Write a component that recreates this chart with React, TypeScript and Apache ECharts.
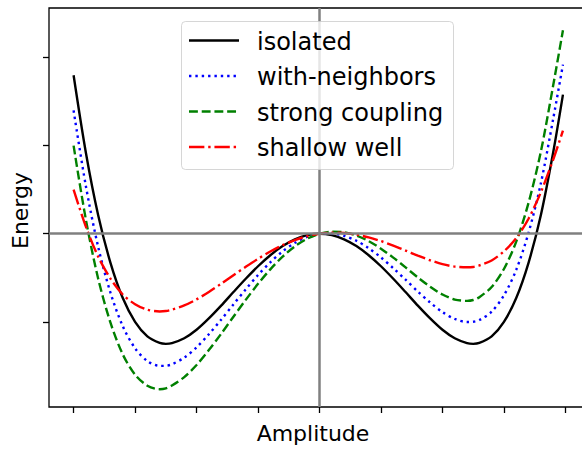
import React, { useEffect, useRef } from "react";
import * as echarts from "echarts";

const amplitude = [
  -2.0, -1.9, -1.8, -1.7, -1.6, -1.5, -1.4, -1.3, -1.25, -1.2, -1.1, -1.0,
  -0.9, -0.8, -0.7, -0.6, -0.5, -0.4, -0.3, -0.2, -0.1, 0.0,
  0.1, 0.2, 0.3, 0.4, 0.5, 0.6, 0.7, 0.8, 0.9, 1.0,
  1.1, 1.2, 1.25, 1.3, 1.4, 1.5, 1.6, 1.7, 1.8, 1.9, 1.98,
];

const isolated = [
  1.8, 0.92, 0.21, -0.33, -0.73, -1.0, -1.165, -1.24, -1.25, -1.242, -1.187, -1.09,
  -0.961, -0.816, -0.662, -0.511, -0.369, -0.244, -0.14, -0.063, -0.016, 0.0,
  -0.016, -0.063, -0.14, -0.244, -0.369, -0.511, -0.662, -0.816, -0.961, -1.09,
  -1.187, -1.242, -1.25, -1.24, -1.165, -1.0, -0.73, -0.33, 0.21, 0.92, 1.58,
];

const withNeighbors = [
  1.4, 0.54, -0.15, -0.67, -1.05, -1.3, -1.445, -1.5, -1.499, -1.482, -1.407, -1.29,
  -1.141, -0.976, -0.802, -0.631, -0.469, -0.324, -0.2, -0.103, -0.036, 0.0,
  0.004, -0.023, -0.08, -0.164, -0.269, -0.391, -0.522, -0.656, -0.781, -0.89,
  -0.967, -1.002, -0.999, -0.98, -0.885, -0.7, -0.41, 0.01, 0.57, 1.3, 1.92,
];

const strongCoupling = [
  1.0, 0.16, -0.51, -1.01, -1.37, -1.6, -1.725, -1.765, -1.755, -1.722, -1.627, -1.49,
  -1.321, -1.136, -0.942, -0.751, -0.569, -0.404, -0.26, -0.143, -0.056, 0.0,
  0.024, 0.017, -0.02, -0.084, -0.169, -0.271, -0.382, -0.496, -0.601, -0.69,
  -0.747, -0.762, -0.752, -0.72, -0.605, -0.4, -0.09, 0.35, 0.93, 1.68, 2.31,
];

const shallowWell = [
  0.5, 0.08, -0.26, -0.51, -0.69, -0.8, -0.863, -0.882, -0.877, -0.861, -0.814, -0.745,
  -0.661, -0.568, -0.471, -0.376, -0.285, -0.202, -0.13, -0.072, -0.028, 0.0,
  0.012, 0.008, -0.01, -0.042, -0.084, -0.136, -0.191, -0.248, -0.301, -0.345,
  -0.373, -0.381, -0.377, -0.36, -0.303, -0.2, -0.05, 0.17, 0.47, 0.84, 1.17,
];

const xTicks = [-2, -1.5, -1, -0.5, 0, 0.5, 1, 1.5, 2];
const yTicks = [-1, 0, 1, 2];

const seriesNames = ["isolated", "with-neighbors", "strong coupling", "shallow well"];
const seriesValues = [isolated, withNeighbors, strongCoupling, shallowWell];
const seriesColors = ["#000000", "#0000ff", "#008000", "#ff0000"];
const LW = 2.4;
const seriesDash: (number[] | "solid")[] = [
  "solid",
  [LW, 1.65 * LW],
  [3.7 * LW, 1.6 * LW],
  [6.4 * LW, 1.6 * LW, LW, 1.6 * LW],
];

const FONT = "DejaVu Sans";

export default function App() {
  const ref = useRef<HTMLDivElement>(null);

  useEffect(() => {
    if (!ref.current) return;
    const chart = echarts.init(ref.current, null, { renderer: "svg" });

    const legendRows = [40.5, 76, 111.5, 147];
    const legendGraphics: any[] = [
      {
        type: "rect",
        shape: { x: 181.5, y: 21.5, width: 272, height: 148, r: 4 },
        style: { fill: "rgba(255,255,255,0.8)", stroke: "rgba(204,204,204,0.8)", lineWidth: 1 },
        z: 100,
      },
    ];
    seriesNames.forEach((name, i) => {
      const y = legendRows[i];
      const dash = seriesDash[i];
      legendGraphics.push({
        type: "line",
        shape: { x1: 189, y1: y, x2: 239, y2: y },
        style: {
          stroke: seriesColors[i],
          lineWidth: LW,
          lineDash: dash === "solid" ? null : dash,
        },
        z: 101,
      });
      legendGraphics.push({
        type: "text",
        x: 257,
        y: y + 1,
        style: {
          text: name,
          fill: "#000",
          fontSize: 24,
          fontFamily: FONT,
          align: "left",
          verticalAlign: "middle",
        },
        z: 101,
      });
    });

    const curveSeries = seriesNames.map((name, i) => ({
      type: "line",
      name,
      data: amplitude.map((x, j) => [x, seriesValues[i][j]]),
      showSymbol: false,
      symbol: "none",
      smooth: 0.3,
      clip: true,
      z: 3,
      lineStyle: {
        color: seriesColors[i],
        width: LW,
        type: seriesDash[i],
      },
    }));

    chart.setOption({
      animation: false,
      backgroundColor: "#ffffff",
      textStyle: { fontFamily: FONT },
      grid: {
        left: 49,
        right: 0,
        top: 8,
        bottom: 41,
        show: true,
        borderColor: "#000",
        borderWidth: 1.3,
        backgroundColor: "transparent",
      },
      xAxis: {
        type: "value",
        min: -2.2,
        max: 2.2,
        axisLine: { show: false, onZero: false },
        axisTick: {
          show: true,
          inside: false,
          length: 6,
          lineStyle: { color: "#000", width: 1.3 },
          customValues: xTicks,
        },
        axisLabel: { show: false, customValues: xTicks },
        splitLine: { show: false },
        name: "Amplitude",
        nameLocation: "middle",
        nameGap: 15,
        nameTextStyle: {
          fontSize: 22,
          fontFamily: FONT,
          color: "#000",
          padding: [0, 13, 0, 0],
        },
      },
      yAxis: {
        type: "value",
        min: -1.967,
        max: 2.563,
        axisLine: { show: false, onZero: false },
        axisTick: {
          show: true,
          inside: false,
          length: 6,
          lineStyle: { color: "#000", width: 1.3 },
          customValues: yTicks,
        },
        axisLabel: { show: false, customValues: yTicks },
        splitLine: { show: false },
        name: "Energy",
        nameLocation: "middle",
        nameGap: 18,
        nameRotate: 90,
        nameTextStyle: {
          fontSize: 22,
          fontFamily: FONT,
          color: "#000",
          padding: [0, 6, 0, 0],
        },
      },
      series: [
        {
          type: "line",
          name: "zero-lines",
          data: [],
          z: 1,
          symbol: "none",
          markLine: {
            silent: true,
            symbol: ["none", "none"],
            label: { show: false },
            lineStyle: { color: "#808080", width: 2.5, type: "solid" },
            data: [{ xAxis: 0 }, { yAxis: 0 }],
          },
        },
        ...curveSeries,
      ],
      graphic: legendGraphics,
    });

    return () => {
      chart.dispose();
    };
  }, []);

  return (
    <div style={{ position: "fixed", left: 0, top: 0, width: 582, height: 449, overflow: "hidden" }}>
      <div ref={ref} style={{ width: 590, height: 449 }} />
    </div>
  );
}
